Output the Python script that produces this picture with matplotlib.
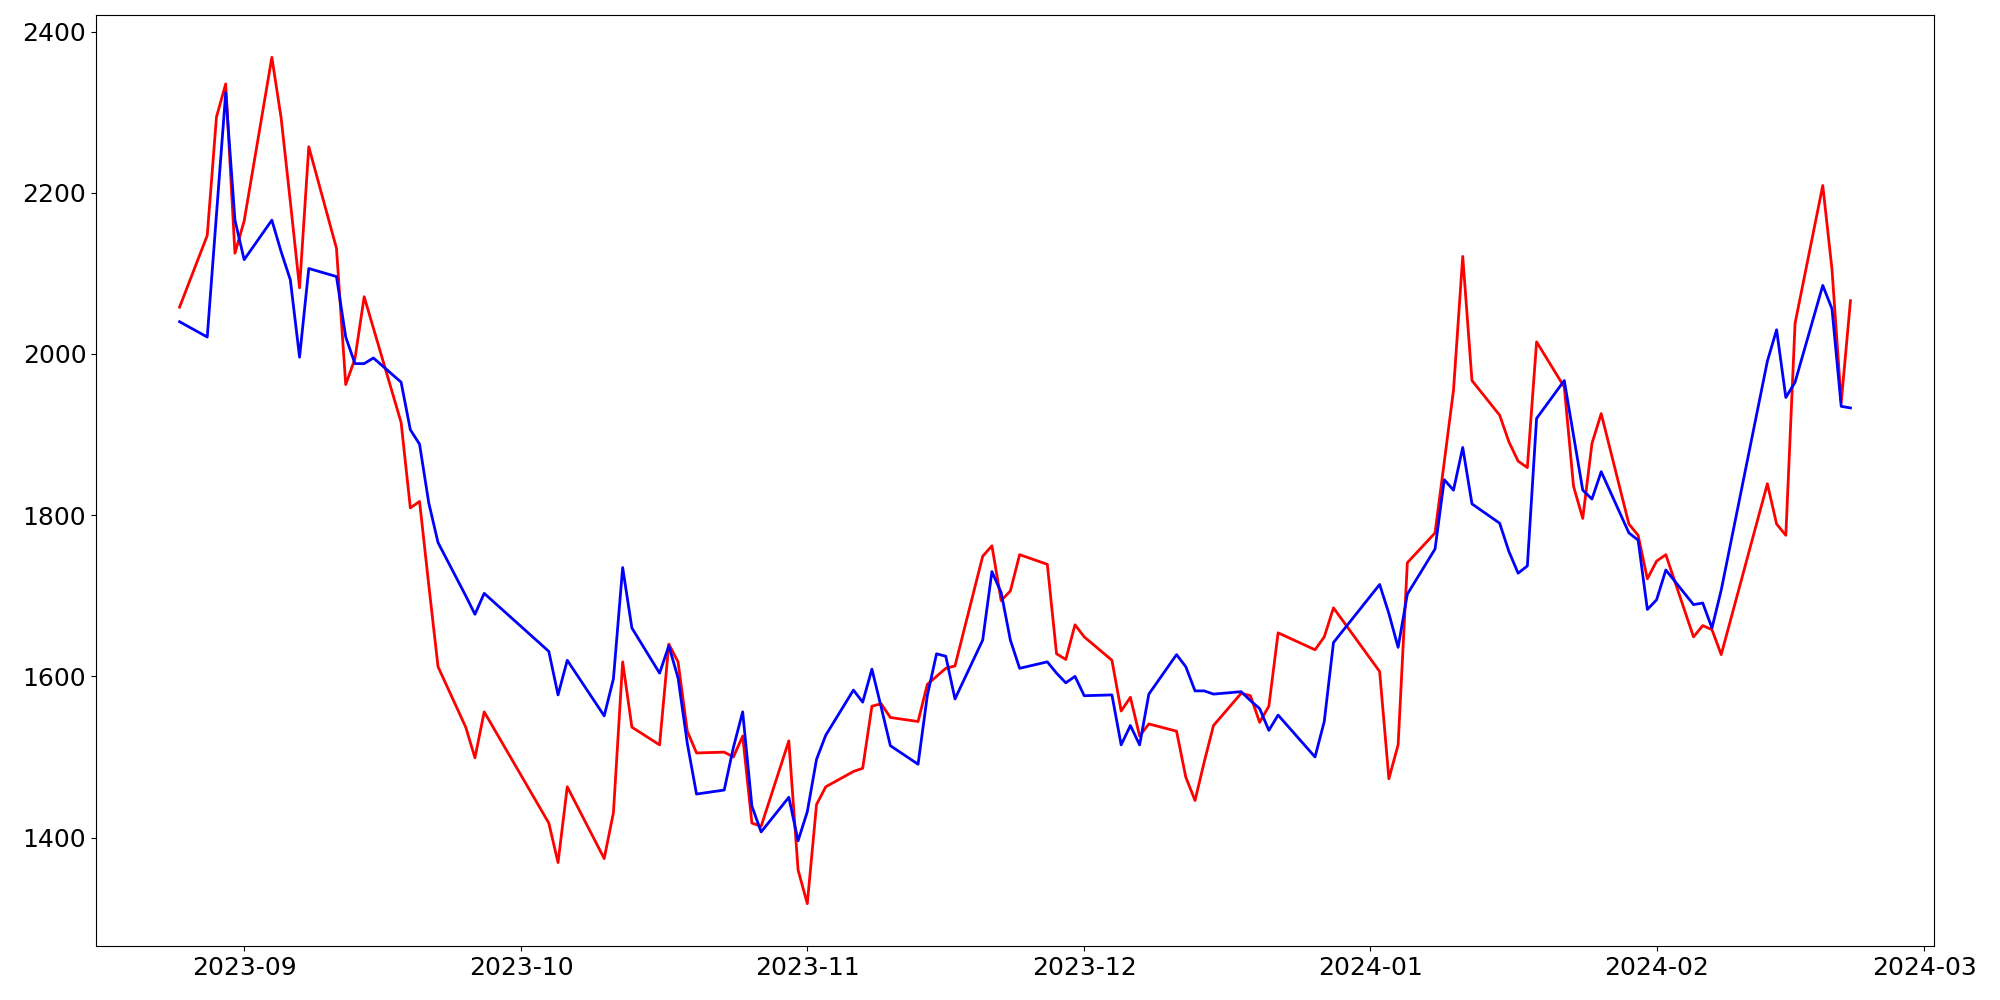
import matplotlib
matplotlib.use("Agg")
import matplotlib.pyplot as plt
import matplotlib.dates as mdates
import pandas as pd

dates = [
    "2023-08-25", "2023-08-28", "2023-08-29", "2023-08-30", "2023-08-31", "2023-09-01",
    "2023-09-04", "2023-09-05", "2023-09-06", "2023-09-07", "2023-09-08",
    "2023-09-11", "2023-09-12", "2023-09-13", "2023-09-14", "2023-09-15",
    "2023-09-18", "2023-09-19", "2023-09-20", "2023-09-21", "2023-09-22",
    "2023-09-25", "2023-09-26", "2023-09-27",
    "2023-10-04", "2023-10-05", "2023-10-06",
    "2023-10-10", "2023-10-11", "2023-10-12", "2023-10-13",
    "2023-10-16", "2023-10-17", "2023-10-18", "2023-10-19", "2023-10-20",
    "2023-10-23", "2023-10-24", "2023-10-25", "2023-10-26", "2023-10-27",
    "2023-10-30", "2023-10-31", "2023-11-01", "2023-11-02", "2023-11-03",
    "2023-11-06", "2023-11-07", "2023-11-08", "2023-11-09", "2023-11-10",
    "2023-11-13", "2023-11-14", "2023-11-15", "2023-11-16", "2023-11-17",
    "2023-11-20", "2023-11-21", "2023-11-22", "2023-11-23", "2023-11-24",
    "2023-11-27", "2023-11-28", "2023-11-29", "2023-11-30", "2023-12-01",
    "2023-12-04", "2023-12-05", "2023-12-06", "2023-12-07", "2023-12-08",
    "2023-12-11", "2023-12-12", "2023-12-13", "2023-12-14", "2023-12-15",
    "2023-12-18", "2023-12-19", "2023-12-20", "2023-12-21", "2023-12-22",
    "2023-12-26", "2023-12-27", "2023-12-28",
    "2024-01-02", "2024-01-03", "2024-01-04", "2024-01-05",
    "2024-01-08", "2024-01-09", "2024-01-10", "2024-01-11", "2024-01-12",
    "2024-01-15", "2024-01-16", "2024-01-17", "2024-01-18", "2024-01-19",
    "2024-01-22", "2024-01-23", "2024-01-24", "2024-01-25", "2024-01-26",
    "2024-01-29", "2024-01-30", "2024-01-31", "2024-02-01", "2024-02-02",
    "2024-02-05", "2024-02-06", "2024-02-07", "2024-02-08",
    "2024-02-13", "2024-02-14", "2024-02-15", "2024-02-16",
    "2024-02-19", "2024-02-20", "2024-02-21", "2024-02-22",
]

red_values = [
    2058, 2147, 2294, 2335, 2125, 2165,
    2368, 2293, 2189, 2082, 2257,
    2131, 1962, 1994, 2071, 2032,
    1915, 1809, 1817, 1713, 1612,
    1537, 1499, 1556,
    1418, 1369, 1463,
    1374, 1431, 1618, 1537,
    1515, 1640, 1618, 1532, 1505,
    1506, 1500, 1526, 1418, 1414,
    1520, 1360, 1318, 1441, 1463,
    1482, 1486, 1563, 1566, 1549,
    1544, 1590, 1600, 1610, 1613,
    1749, 1762, 1694, 1706, 1751,
    1739, 1628, 1621, 1664, 1649,
    1620, 1557, 1574, 1526, 1541,
    1532, 1475, 1446, 1494, 1539,
    1579, 1576, 1543, 1563, 1654,
    1633, 1649, 1685,
    1606, 1473, 1515, 1741,
    1778, 1866, 1955, 2121, 1967,
    1924, 1891, 1867, 1859, 2015,
    1959, 1836, 1796, 1889, 1926,
    1789, 1775, 1721, 1743, 1751,
    1649, 1663, 1658, 1627,
    1839, 1789, 1775, 2038,
    2209, 2105, 1940, 2066,
]

blue_values = [
    2040, 2021, 2173, 2324, 2166, 2117,
    2166, 2127, 2092, 1996, 2106,
    2096, 2021, 1988, 1988, 1995,
    1965, 1906, 1888, 1815, 1766,
    1700, 1677, 1703,
    1631, 1577, 1620,
    1551, 1597, 1735, 1660,
    1604, 1638, 1598, 1517, 1454,
    1459, 1512, 1556, 1439, 1407,
    1450, 1396, 1432, 1497, 1527,
    1583, 1568, 1609, 1562, 1514,
    1491, 1576, 1628, 1625, 1572,
    1645, 1730, 1704, 1645, 1610,
    1618, 1604, 1592, 1600, 1576,
    1577, 1515, 1539, 1515, 1578,
    1627, 1612, 1582, 1582, 1578,
    1581, 1570, 1560, 1533, 1552,
    1500, 1544, 1642,
    1714, 1678, 1636, 1702,
    1758, 1844, 1831, 1884, 1814,
    1790, 1755, 1728, 1737, 1920,
    1967, 1899, 1831, 1820, 1854,
    1778, 1769, 1683, 1695, 1732,
    1689, 1691, 1660, 1707,
    1991, 2030, 1946, 1965,
    2085, 2056, 1935, 1933,
]

x = pd.to_datetime(dates)

fig = plt.figure(figsize=(20, 10), dpi=100)
ax = fig.add_axes([0.048, 0.054, 0.919, 0.931])
ax.plot(x, red_values, color="red", linewidth=2)
ax.plot(x, blue_values, color="blue", linewidth=2)

ax.xaxis.set_major_locator(mdates.MonthLocator())
ax.xaxis.set_major_formatter(mdates.DateFormatter("%Y-%m"))
ax.tick_params(axis="both", labelsize=18)

fig.savefig("out.png", dpi=100)
